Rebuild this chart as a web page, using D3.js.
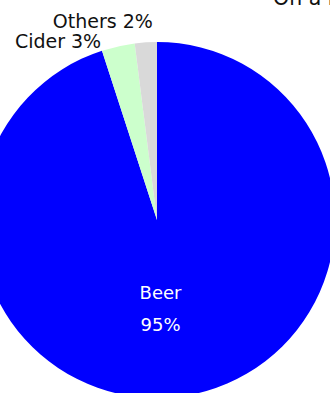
<!DOCTYPE html>
<html>
<head>
<meta charset="utf-8">
<script src="https://cdn.jsdelivr.net/npm/d3@7"></script>
<style>
  html, body { margin: 0; padding: 0; background: #fff; overflow: hidden; }
  svg { display: block; }
  text { font-family: "DejaVu Sans", Verdana, sans-serif; }
</style>
</head>
<body>
<svg id="chart" width="330" height="393"></svg>
<script>
// Drink shares (percent)
const categories = ["Beer", "Cider", "Others"];
const shares = [95, 3, 2];
const colors = ["#0000ff", "#ccffcc", "#d9d9d9"];
const titleText = "On a night out, what do you drink?";

const width = 330, height = 393;
const cx = 157, cy = 220, radius = 178;

const svg = d3.select("#chart");

// Title, running off the top right
svg.append("text")
  .attr("x", 273)
  .attr("y", 5)
  .attr("font-size", 20.5)
  .attr("fill", "#111")
  .text(titleText);

const data = categories.map((c, i) => ({ category: c, value: shares[i], color: colors[i] }));

const pie = d3.pie()
  .value(d => d.value)
  .sort(null)
  .startAngle(0)
  .endAngle(2 * Math.PI);

const arcs = pie(data);

const arc = d3.arc().innerRadius(0).outerRadius(radius);

const g = svg.append("g").attr("transform", `translate(${cx},${cy})`);

g.selectAll("path.slice")
  .data(arcs)
  .join("path")
  .attr("class", "slice")
  .attr("d", arc)
  .attr("fill", d => d.data.color);

// Large slice: label inside, two lines, white
const inside = arcs.filter(d => d.endAngle - d.startAngle > 0.5);
const insideG = g.selectAll("g.inside")
  .data(inside)
  .join("g")
  .attr("class", "inside")
  .attr("transform", d => {
    const mid = (d.startAngle + d.endAngle) / 2;
    const r = radius * 0.5;
    // pull towards the vertical axis so the label sits in the widest part
    const x = Math.sin(mid) * r * 0.25;
    const y = -Math.cos(mid) * r;
    return `translate(${x},${y})`;
  });

insideG.append("text")
  .attr("text-anchor", "middle")
  .attr("y", -9)
  .attr("font-size", 18)
  .attr("fill", "#fff")
  .text(d => d.data.category);

insideG.append("text")
  .attr("text-anchor", "middle")
  .attr("y", 23)
  .attr("font-size", 18)
  .attr("fill", "#fff")
  .text(d => d.data.value + "%");

// Small slices: labels outside, stacked upward to the left of the top
const outside = arcs.filter(d => d.endAngle - d.startAngle <= 0.5);
const outsideLayout = {
  Cider:  { dx: -17, dy: 2 },
  Others: { dx: 7,   dy: -14 }
};
g.selectAll("text.outside")
  .data(outside)
  .join("text")
  .attr("class", "outside")
  .attr("text-anchor", "end")
  .attr("font-size", 19)
  .attr("fill", "#111")
  .attr("x", d => {
    const mid = (d.startAngle + d.endAngle) / 2;
    return Math.sin(mid) * radius + outsideLayout[d.data.category].dx;
  })
  .attr("y", d => {
    const mid = (d.startAngle + d.endAngle) / 2;
    return -Math.cos(mid) * radius + outsideLayout[d.data.category].dy;
  })
  .text(d => `${d.data.category} ${d.data.value}%`);
</script>
</body>
</html>
